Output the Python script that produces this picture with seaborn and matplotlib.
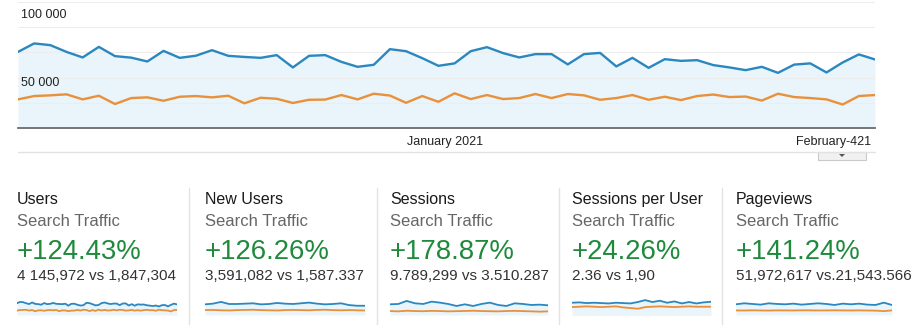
import matplotlib
matplotlib.use("Agg")
import matplotlib.pyplot as plt
from matplotlib.lines import Line2D
from matplotlib.patches import Rectangle, Polygon
import numpy as np
import pandas as pd
import seaborn as sns

# ---- daily users, search traffic: current period vs previous period ----
users_current = [75500, 83900, 82200, 75500, 70000, 80500, 71300, 69800, 66000, 76500,
                 69600, 71700, 77200, 71600, 70500, 69600, 72300, 60100, 71600, 72300,
                 65600, 60700, 62700, 78200, 76200, 69300, 61700, 64100, 76200, 80200,
                 74300, 70000, 73300, 73300, 63100, 73300, 74500, 61100, 69600, 59700,
                 68300, 66600, 67300, 62400, 60100, 57400, 60700, 54700, 62900, 64100,
                 55100, 65000, 73000, 68000]
users_previous = [28400, 31700, 32400, 33400, 28400, 32000, 23800, 29700, 30400, 27000,
                  31000, 31700, 30400, 32000, 24500, 30000, 29000, 24800, 28000, 28200,
                  32700, 28400, 34000, 32200, 25000, 31700, 26000, 34400, 28700, 32700,
                  28700, 29700, 33700, 29700, 33700, 32400, 28000, 29700, 32700, 28000,
                  31000, 27700, 31700, 33200, 30700, 31200, 27200, 34000, 30700, 29700,
                  28400, 23300, 31700, 32700]

y_tick_labels = ["100 000", "50 000"]
x_tick_labels = ["January 2021", "February-421"]

# ---- sparkline series for the scorecards ----
new_users_current = [63900, 68100, 78600, 66000, 66000, 68100, 70200, 63900, 66000, 72300, 68100,
                     66000, 70200, 74400, 68100, 63900, 66000, 70200, 59700, 55500, 55500]
new_users_previous = [29400, 30500, 28200, 27100, 29400, 30500, 31600, 29400, 28200, 27100, 29400,
                      30500, 29400, 28200, 30500, 31600, 29400, 28200, 29400, 28200, 27100]
sessions_current = [175500, 181000, 230500, 192000, 181000, 219500, 203000, 181000, 148000, 175500,
                    148000, 181000, 203000, 164500, 148000, 192000, 181000, 164500, 170000, 159000]
sessions_previous = [65000, 60000, 70000, 65000, 62000, 68000, 65000, 60000, 63000, 66000,
                     70000, 65000, 62000, 60000, 65000, 68000, 64000, 60000, 55000, 60000]
spu_current = [2.36, 2.40, 2.32, 2.36, 2.32, 2.28, 2.36, 2.32, 2.28, 2.44,
               2.66, 2.44, 2.59, 2.36, 2.51, 2.28, 2.44, 2.28, 2.40, 2.47]
spu_previous = [1.86, 1.90, 1.94, 1.90, 1.86, 1.90, 1.94, 1.82, 1.75, 1.67,
                1.86, 1.90, 1.94, 1.90, 1.86, 1.90, 1.94, 1.90, 1.90, 1.90]
pageviews_current = [933000, 1020000, 962000, 904000, 1020000, 962000, 933000, 991000, 904000, 962000,
                     1020000, 962000, 875000, 991000, 933000, 991000, 904000, 875000, 1078000, 875000]
pageviews_previous = [400000, 390000, 410000, 395000, 385000, 405000, 400000, 395000, 410000, 405000,
                      395000, 400000, 410000, 400000, 395000, 405000, 390000, 380000, 340000, 400000]

metric_names = ["Users", "New Users", "Sessions", "Sessions per User", "Pageviews"]
segment_label = "Search Traffic"
metric_changes = ["+124.43%", "+126.26%", "+178.87%", "+24.26%", "+141.24%"]
metric_totals = ["4 145,972 vs 1,847,304", "3,591,082 vs 1,587.337", "9.789,299 vs 3.510.287",
                 "2.36 vs 1,90", "51,972,617 vs.21,543.566"]

BLUE = "#2b87bf"
ORANGE = "#e8913a"
FILL = "#e9f4fb"
GREEN = "#1f8a3c"

sns.set_theme(style="white")
plt.rcParams["font.family"] = ["Liberation Sans", "DejaVu Sans"]

W, H = 917, 325
fig = plt.figure(figsize=(W / 100, H / 100), dpi=100)
fig.patch.set_facecolor("white")


def box(x0, y0, x1, y1):
    return [x0 / W, 1 - y1 / H, (x1 - x0) / W, (y1 - y0) / H]


def fy(y):
    return 1 - y / H


def draw_pair(ax, cur, prev, lw):
    days = np.arange(len(cur))
    long = pd.DataFrame({
        "day": np.concatenate([days, days]),
        "value": np.concatenate([cur, prev]),
        "period": ["current"] * len(cur) + ["previous"] * len(prev),
    })
    ax.fill_between(days, cur, color=FILL, lw=0, zorder=0)
    sns.lineplot(data=long, x="day", y="value", hue="period",
                 palette={"current": BLUE, "previous": ORANGE},
                 linewidth=lw, legend=False, ax=ax, zorder=3)
    ax.set_xlim(0, len(cur) - 1)
    ax.set_xlabel("")
    ax.set_ylabel("")


# ---- main chart ----
ax = fig.add_axes(box(18, 2, 875, 128))
draw_pair(ax, users_current, users_previous, 1.7)
ax.set_ylim(0, 125000)
ax.set_yticks([25000, 50000, 75000, 100000, 125000])
ax.yaxis.grid(True, color="#ededed", lw=0.8)
ax.set_axisbelow(True)
ax.tick_params(length=0, labelleft=False, labelbottom=False)
for side in ["left", "right", "top"]:
    ax.spines[side].set_visible(False)
ax.spines["bottom"].set_color("#6b6b6b")
ax.spines["bottom"].set_linewidth(1.3)
ax.spines["bottom"].set_zorder(5)

fig.text(21 / W, fy(14.5), y_tick_labels[0], fontsize=9, color="#222222", va="center")
fig.text(21 / W, fy(82.5), y_tick_labels[1], fontsize=9, color="#222222", va="center")
fig.text(445 / W, fy(141.5), x_tick_labels[0], fontsize=9, color="#222222", va="center", ha="center")
fig.text(871 / W, fy(141.5), x_tick_labels[1], fontsize=9, color="#222222", va="center", ha="right")

fig.add_artist(Line2D([18 / W, 875 / W], [fy(151.5)] * 2, color="#e2e2e2", lw=1))
fig.add_artist(Rectangle((818 / W, fy(160)), 48 / W, 8.5 / H, transform=fig.transFigure,
                         facecolor="#f1f1f1", edgecolor="#c9c9c9", lw=0.8))
fig.add_artist(Polygon([[839 / W, fy(154)], [845 / W, fy(154)], [842 / W, fy(157)]],
                       closed=True, transform=fig.transFigure, facecolor="#555555", lw=0))

# ---- scorecards ----
panel_x = [17, 205, 390, 572, 736]
spark_right = [177, 365, 548, 711, 892]
separators = [189, 377, 559, 722]
spark_series = [
    (users_current, users_previous, (0, 125000)),
    (new_users_current, new_users_previous, (0, 117000)),
    (sessions_current, sessions_previous, (0, 320000)),
    (spu_current, spu_previous, (0.95, 3.19)),
    (pageviews_current, pageviews_previous, (0, 1700000)),
]

for sx in separators:
    fig.add_artist(Line2D([sx / W] * 2, [fy(188), fy(325)], color="#e3e3e3", lw=1))

for i in range(5):
    x = panel_x[i] / W
    fig.text(x, fy(204), metric_names[i], fontsize=11.5, color="#1a1a1a", va="baseline")
    fig.text(x, fy(226), segment_label, fontsize=12, color="#666666", va="baseline")
    fig.text(x, fy(259), metric_changes[i], fontsize=19.8, color=GREEN, va="baseline")
    fig.text(x, fy(280), metric_totals[i], fontsize=11, color="#333333", va="baseline")

    cur, prev, lim = spark_series[i]
    sax = fig.add_axes(box(panel_x[i], 295.5, spark_right[i], 315))
    draw_pair(sax, cur, prev, 1.3)
    sax.set_ylim(*lim)
    sax.axis("off")

fig.savefig("out.png", dpi=100, facecolor="white")
